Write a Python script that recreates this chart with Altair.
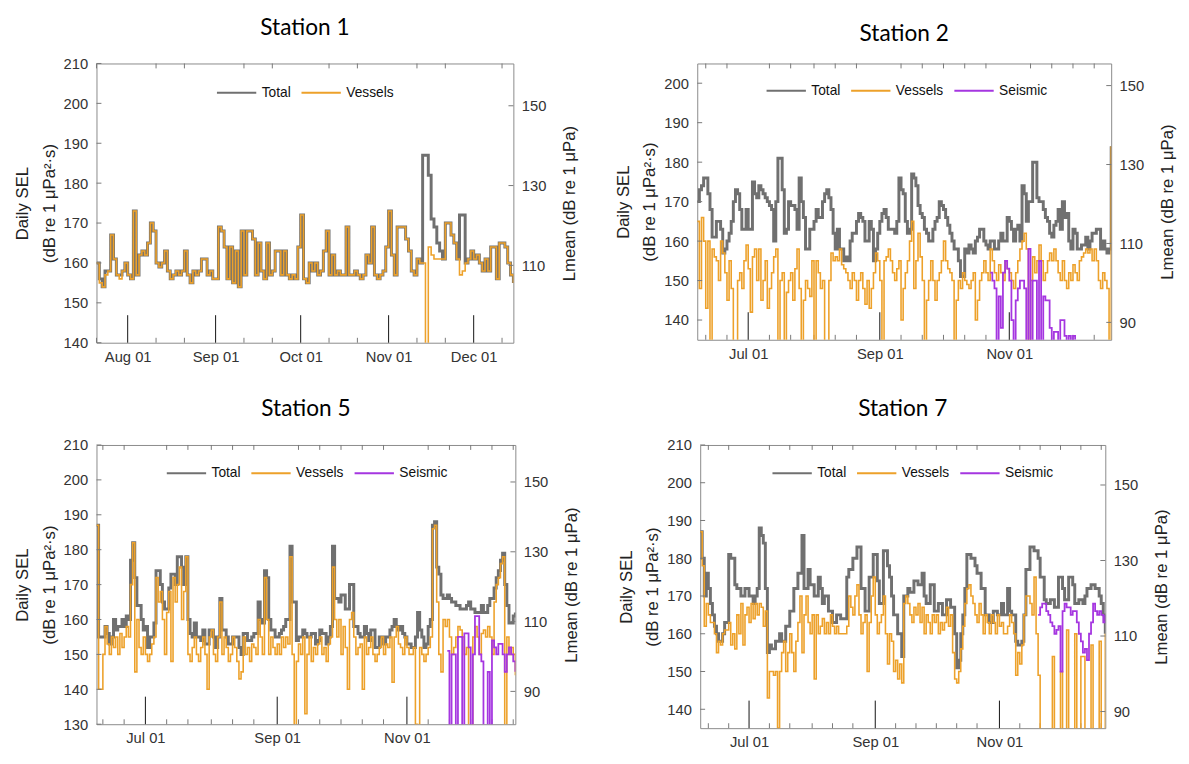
import altair as alt
import pandas as pd

# ---------------- data (daily values, dB) ----------------
S1_START = "2019-07-21"
S1_TOTAL = [160,156,154,158,158,167,161,157,157,158,160,157,156,173,157,162,163,162,165,170,
            168,160,159,160,163,158,156,157,158,157,158,163,157,155,158,157,158,161,161,157,
            158,156,156,169,168,164,156,164,155,163,154,168,157,168,168,166,157,165,158,156,
            165,157,158,163,163,157,163,157,156,157,156,164,172,156,155,160,158,160,157,158,
            163,168,157,162,157,158,157,157,169,157,157,158,157,156,157,162,160,169,157,156,
            157,158,164,173,162,157,169,169,169,166,163,158,157,161,160,187,187,182,171,169,
            165,163,161,170,170,167,165,161,172,172,160,161,163,161,162,160,158,161,158,164,
            164,156,165,165,164,160,157,155]
S1_VESSELS = [160,155,154,157,158,167,161,157,156,158,160,157,156,173,157,162,163,162,165,170,
              168,160,159,160,163,158,156,157,158,157,158,163,157,155,158,157,158,161,161,157,
              158,156,156,169,168,164,156,164,155,163,154,168,157,168,168,166,157,165,158,156,
              165,157,158,163,163,157,163,157,156,157,156,164,172,156,155,160,158,160,157,158,
              163,168,157,162,157,158,157,157,169,157,157,158,157,156,157,162,160,169,157,156,
              157,158,164,173,162,157,169,169,169,166,163,158,157,161,160,160,120,164,162,161,
              161,161,161,170,170,167,165,161,157,158,160,161,163,161,162,160,158,161,158,164,
              164,156,165,165,164,160,157,155]
S1_XLABELS = ["2019-08-01", "2019-09-01", "2019-10-01", "2019-11-01", "2019-12-01"]

S2_START = "2019-06-07"
S2_TOTAL = [170,173,174,176,176,172,168,161,161,165,165,163,157,158,160,162,165,170,173,172,
            168,163,163,168,163,163,175,172,171,174,173,172,171,170,169,168,160,170,181,181,
            173,162,163,170,169,169,168,163,176,170,166,158,158,163,163,165,168,166,166,170,
            172,173,171,168,162,158,163,158,158,155,156,155,160,162,162,165,167,166,165,160,
            160,165,163,155,158,162,165,167,168,166,163,163,163,162,165,176,173,172,165,162,
            163,177,176,174,169,167,166,163,162,160,160,163,165,166,170,169,168,166,164,162,
            160,158,158,155,151,151,158,157,159,158,157,160,161,163,163,160,159,158,160,160,
            158,158,160,162,160,160,166,165,163,160,163,164,160,174,172,165,170,170,180,180,
            171,170,170,168,166,165,162,161,164,165,168,163,170,166,167,160,158,163,162,158,
            158,159,159,161,158,160,162,162,163,163,158,160,158,157,158,184]
S2_VESSELS = [165,148,166,160,143,160,120,158,156,155,150,160,157,152,145,155,148,120,120,150,
              152,148,155,159,153,142,156,158,150,158,145,150,155,143,148,152,156,158,120,150,
              152,120,147,150,152,145,153,158,148,120,145,150,148,146,155,120,155,152,148,150,
              120,120,150,157,155,156,155,158,154,153,152,150,148,152,150,145,150,152,148,144,
              150,143,148,152,157,155,150,120,155,156,158,155,152,150,153,155,140,148,152,155,
              160,165,148,155,162,156,150,120,145,150,155,150,145,150,152,155,160,155,153,152,
              150,120,145,150,148,152,150,149,148,150,152,140,145,150,152,155,152,150,158,155,
              152,150,154,152,150,155,153,152,150,148,152,155,158,160,162,158,120,150,156,152,
              155,159,155,150,152,155,157,155,158,155,152,150,155,150,148,152,150,154,152,150,
              155,156,157,158,157,158,155,158,155,150,148,152,150,148,120,184]
S2_SEISMIC_START = "2019-10-23"
S2_SEISMIC = [152,150,148,120,146,138,152,155,153,150,140,120,145,148,150,150,148,120,158,120,
              150,150,120,155,120,146,145,145,138,120,137,137,120,140,140,136,120,136,120,136,135]
S2_XLABELS = ["2019-07-01", "2019-09-01", "2019-11-01"]

S5_START = "2019-06-08"
S5_TOTAL = [187,155,155,155,158,156,153,155,160,157,158,158,160,158,161,160,177,182,172,164,
            164,160,157,158,152,155,155,159,174,174,170,165,163,163,169,173,173,170,178,178,
            175,170,178,160,156,155,159,155,155,154,157,153,153,157,157,155,152,155,166,157,
            157,155,153,153,155,155,155,152,150,156,156,154,154,155,156,156,165,160,159,174,
            172,160,157,157,155,155,156,157,158,160,160,181,165,165,154,155,155,157,156,155,
            155,156,156,153,154,157,156,156,153,155,158,181,166,166,165,167,167,163,163,170,
            170,158,158,156,155,155,158,156,154,157,157,152,152,155,155,153,155,155,157,158,
            160,158,157,158,156,155,153,153,152,152,155,162,157,155,152,153,158,160,187,188,
            175,173,167,166,166,167,166,165,165,164,164,163,163,163,164,165,163,163,162,162,
            162,164,162,162,164,166,166,169,172,174,177,179,170,164,159,159,161,162]
S5_VESSELS = [187,140,140,150,158,153,150,155,152,155,150,156,152,155,158,155,170,182,145,160,
              152,150,155,150,148,150,153,155,172,165,168,160,150,162,168,148,172,165,170,175,
              160,168,178,150,148,152,155,150,148,152,155,150,140,155,157,150,148,155,165,150,
              155,152,148,150,155,152,148,143,145,155,150,152,148,153,152,150,160,155,150,172,
              160,150,155,152,150,153,150,155,152,155,153,178,150,120,148,153,150,155,133,150,
              155,148,152,150,153,155,150,152,148,153,155,175,160,155,160,150,158,152,140,160,
              162,155,150,152,153,140,155,150,152,155,150,148,150,152,155,150,153,152,155,142,
              155,158,153,152,150,155,152,150,150,152,130,120,152,150,148,150,152,155,186,187,
              165,150,145,160,158,160,155,150,152,155,158,157,155,150,152,120,120,155,158,155,
              150,156,157,155,158,155,150,165,170,172,176,178,120,155,150,152,150,144]
S5_SEISMIC_START = "2019-11-20"
S5_SEISMIC = [151,120,150,150,120,155,155,120,156,156,152,120,150,161,161,150,148,120,120,145,
              120,154,152,150,153,153,150,145,150,152,150,148,145]
S5_XLABELS = ["2019-07-01", "2019-09-01", "2019-11-01"]

S7_START = "2019-06-07"
S7_TOTAL = [187,180,170,176,172,168,165,162,160,158,158,160,163,163,181,180,180,173,172,172,
            170,170,172,172,170,170,168,170,172,188,186,184,172,155,157,156,156,158,158,160,
            158,158,162,162,166,166,172,172,176,176,186,172,172,177,173,173,170,170,175,172,
            168,170,170,166,166,163,163,165,165,164,164,164,175,177,177,180,180,183,183,172,
            172,166,166,175,175,181,181,174,168,168,182,182,178,175,170,165,165,160,160,154,
            170,170,172,171,171,174,174,173,173,176,170,168,168,173,173,166,166,168,168,165,
            165,169,169,167,167,160,151,153,160,165,172,181,181,180,180,178,176,176,172,172,
            165,165,163,163,166,166,165,165,168,165,165,172,166,165,165,158,157,157,158,165,
            177,177,183,183,182,182,180,175,175,169,168,168,169,169,167,167,175,175,172,169,
            169,175,175,173,168,168,169,169,168,170,172,172,173,173,172,172,170,168,165,160]
S7_VESSELS = [187,178,162,168,165,163,163,160,155,158,157,160,161,161,163,157,160,156,165,160,
              168,157,165,167,163,168,164,168,165,168,167,162,166,143,150,150,149,150,135,150,
              155,158,150,155,160,155,150,158,163,170,155,165,170,163,160,165,148,165,160,162,
              164,160,163,160,165,162,160,162,160,160,160,160,162,170,167,165,170,173,165,160,
              163,165,150,163,170,175,165,160,163,165,170,160,152,160,158,150,153,148,152,147,
              168,170,168,165,163,167,165,168,163,167,160,165,163,160,165,163,165,160,163,161,
              163,167,162,165,155,148,147,150,156,162,168,172,173,170,168,165,163,168,165,160,
              165,163,160,165,163,160,165,162,163,160,160,162,165,163,160,149,155,152,157,165,
              170,170,168,165,175,160,149,120,120,120,120,120,120,154,120,120,120,150,120,120,
              161,120,120,120,160,120,120,154,154,120,120,120,157,120,120,120,158,120,120,160]
S7_SEISMIC_START = "2019-11-20"
S7_SEISMIC = [165,167,168,168,166,165,163,162,160,161,162,150,166,168,167,167,165,166,166,163,
              160,158,155,156,153,160,163,168,166,165,166,165,163,165]
S7_XLABELS = ["2019-07-01", "2019-09-01", "2019-11-01"]

LMEAN_OFFSET = 49.4  # 10*log10(86400 s)

# ---------------- styling ----------------
COLORS = {"Total": "#707070", "Vessels": "#EDA12A", "Seismic": "#A536E0"}
WIDTHS = {"Total": 3.0, "Vessels": 1.6, "Seismic": 1.8}
FONT = "Liberation Sans"
LABEL = "#333333"
TITLE = "#222222"


def dt(s):
    t = pd.Timestamp(s)
    return alt.DateTime(year=t.year, month=t.month, date=t.day, utc=True)


def days(start, n):
    return pd.date_range(start, periods=n, freq="D").strftime("%Y-%m-%d").tolist()


def minor_dates(start, end, major):
    rng = pd.date_range(start, end, freq="D")
    return [d.strftime("%Y-%m-%d") for d in rng
            if d.day in (1, 11, 21) and d.strftime("%Y-%m-%d") not in major]


def panel(title, start, series, ydom, sel_ticks, lmean_ticks, major, W, H, legx, legy):
    n = len(series[0][1])
    end = days(start, n)[-1]
    names = [s[0] for s in series]
    cscale = alt.Scale(domain=names, range=[COLORS[k] for k in names])
    xscale = alt.Scale(type="utc", domain=[dt(start), dt(end)])
    yscale = alt.Scale(domain=ydom, nice=False, zero=False)
    xaxis = alt.Axis(values=[dt(m) for m in major], format="%b %d", title=None,
                     ticks=False, domain=False, grid=False, labelFont=FONT,
                     labelFontSize=15, labelColor=LABEL, labelPadding=7)
    yaxis = alt.Axis(orient="left", values=sel_ticks,
                     title=["Daily SEL", "(dB re 1 \u03bcPa\u00b2\u00b7s)"],
                     ticks=False, domain=False, grid=False, labelFont=FONT,
                     labelFontSize=15, labelColor=LABEL, labelPadding=9,
                     titleFont=FONT, titleFontSize=17, titleFontWeight="normal",
                     titleColor=TITLE, titlePadding=5, titleLineHeight=27)
    raxis = alt.Axis(orient="right", values=lmean_ticks,
                     title="Lmean (dB re 1 \u03bcPa)", titleAngle=270, titleBaseline="top",
                     ticks=False, domain=False, grid=False, labelFont=FONT,
                     labelFontSize=15, labelColor=LABEL, labelPadding=8,
                     titleFont=FONT, titleFontSize=17, titleFontWeight="normal",
                     titleColor=TITLE, titlePadding=16)
    legend = alt.Legend(orient="none", legendX=legx, legendY=legy, direction="horizontal",
                        title=None, symbolType="stroke", symbolSize=1600, symbolStrokeWidth=2.2,
                        labelFont=FONT, labelFontSize=14, labelColor="#111111",
                        columnPadding=6, labelOffset=4, padding=0)

    layers = []
    # inward month ticks
    minor_df = pd.DataFrame({"date": minor_dates(start, end, major)})
    major_df = pd.DataFrame({"date": major})
    layers.append(alt.Chart(minor_df).mark_rule(color="#777777", strokeWidth=1).encode(
        x=alt.X("date:T", scale=xscale, axis=xaxis), y=alt.value(H), y2=alt.value(H - 5)))
    layers.append(alt.Chart(minor_df).mark_rule(color="#777777", strokeWidth=1).encode(
        x=alt.X("date:T", scale=xscale, axis=xaxis), y=alt.value(0), y2=alt.value(5)))
    layers.append(alt.Chart(major_df).mark_rule(color="#111111", strokeWidth=1).encode(
        x=alt.X("date:T", scale=xscale, axis=xaxis), y=alt.value(H), y2=alt.value(H - 28)))

    for k, (name, vals, st) in enumerate(series):
        df = pd.DataFrame({"date": days(st, len(vals)), "SEL": vals, "series": name})
        layers.append(alt.Chart(df).mark_line(interpolate="step-after", clip=True,
                                              strokeWidth=WIDTHS[name]).encode(
            x=alt.X("date:T", scale=xscale, axis=xaxis),
            y=alt.Y("SEL:Q", scale=yscale, axis=yaxis if k == 0 else None),
            color=alt.Color("series:N", scale=cscale, legend=legend),
        ))

    # left inward ticks
    layers.append(alt.Chart(pd.DataFrame({"v": sel_ticks})).mark_rule(color="#777777").encode(
        y=alt.Y("v:Q", scale=yscale, axis=None), x=alt.value(0), x2=alt.value(5)))
    # right axis (Lmean) with inward ticks
    rscale = alt.Scale(domain=[ydom[0] - LMEAN_OFFSET, ydom[1] - LMEAN_OFFSET], nice=False, zero=False)
    layers.append(alt.Chart(pd.DataFrame({"v": lmean_ticks})).mark_rule(color="#777777").encode(
        y=alt.Y("v:Q", scale=rscale, axis=raxis), x=alt.value(W - 5), x2=alt.value(W)))

    return alt.layer(*layers).resolve_scale(y="independent").properties(
        width=W, height=H,
        title=alt.TitleParams(title, font="Lato", fontSize=23, fontWeight="normal",
                              color="#000000", anchor="middle", frame="group", offset=17))


p1 = panel("Station 1", S1_START,
           [("Total", S1_TOTAL, S1_START), ("Vessels", S1_VESSELS, S1_START)],
           [140, 210], [140, 150, 160, 170, 180, 190, 200, 210], [110, 130, 150],
           S1_XLABELS, 424, 284, 121, 8)
p2 = panel("Station 2", S2_START,
           [("Total", S2_TOTAL, S2_START), ("Vessels", S2_VESSELS, S2_START),
            ("Seismic", S2_SEISMIC, S2_SEISMIC_START)],
           [135, 205], [140, 150, 160, 170, 180, 190, 200], [90, 110, 130, 150],
           S2_XLABELS, 421, 281, 69, 6)
p5 = panel("Station 5", S5_START,
           [("Total", S5_TOTAL, S5_START), ("Vessels", S5_VESSELS, S5_START),
            ("Seismic", S5_SEISMIC, S5_SEISMIC_START)],
           [130, 210], [130, 140, 150, 160, 170, 180, 190, 200, 210], [90, 110, 130, 150],
           S5_XLABELS, 426, 284, 70, 7)
p7 = panel("Station 7", S7_START,
           [("Total", S7_TOTAL, S7_START), ("Vessels", S7_VESSELS, S7_START),
            ("Seismic", S7_SEISMIC, S7_SEISMIC_START)],
           [135, 210], [140, 150, 160, 170, 180, 190, 200, 210], [90, 110, 130, 150],
           S7_XLABELS, 412, 288, 72, 7)

RES = dict(x="independent", y="independent", color="independent")
top = alt.hconcat(p1, p2, spacing=36).resolve_scale(**RES).resolve_legend(color="independent")
bottom = alt.hconcat(p5, p7, spacing=37).resolve_scale(**RES).resolve_legend(color="independent")

chart = alt.vconcat(top, bottom, spacing=33).resolve_scale(**RES).resolve_legend(
    color="independent").properties(
    padding={"left": 5, "top": 2, "right": 5, "bottom": 5}, background="white"
).configure_view(stroke="#8a8a8a", strokeWidth=1)

chart.save("out.html", embed_options={"renderer": "svg", "actions": False})
